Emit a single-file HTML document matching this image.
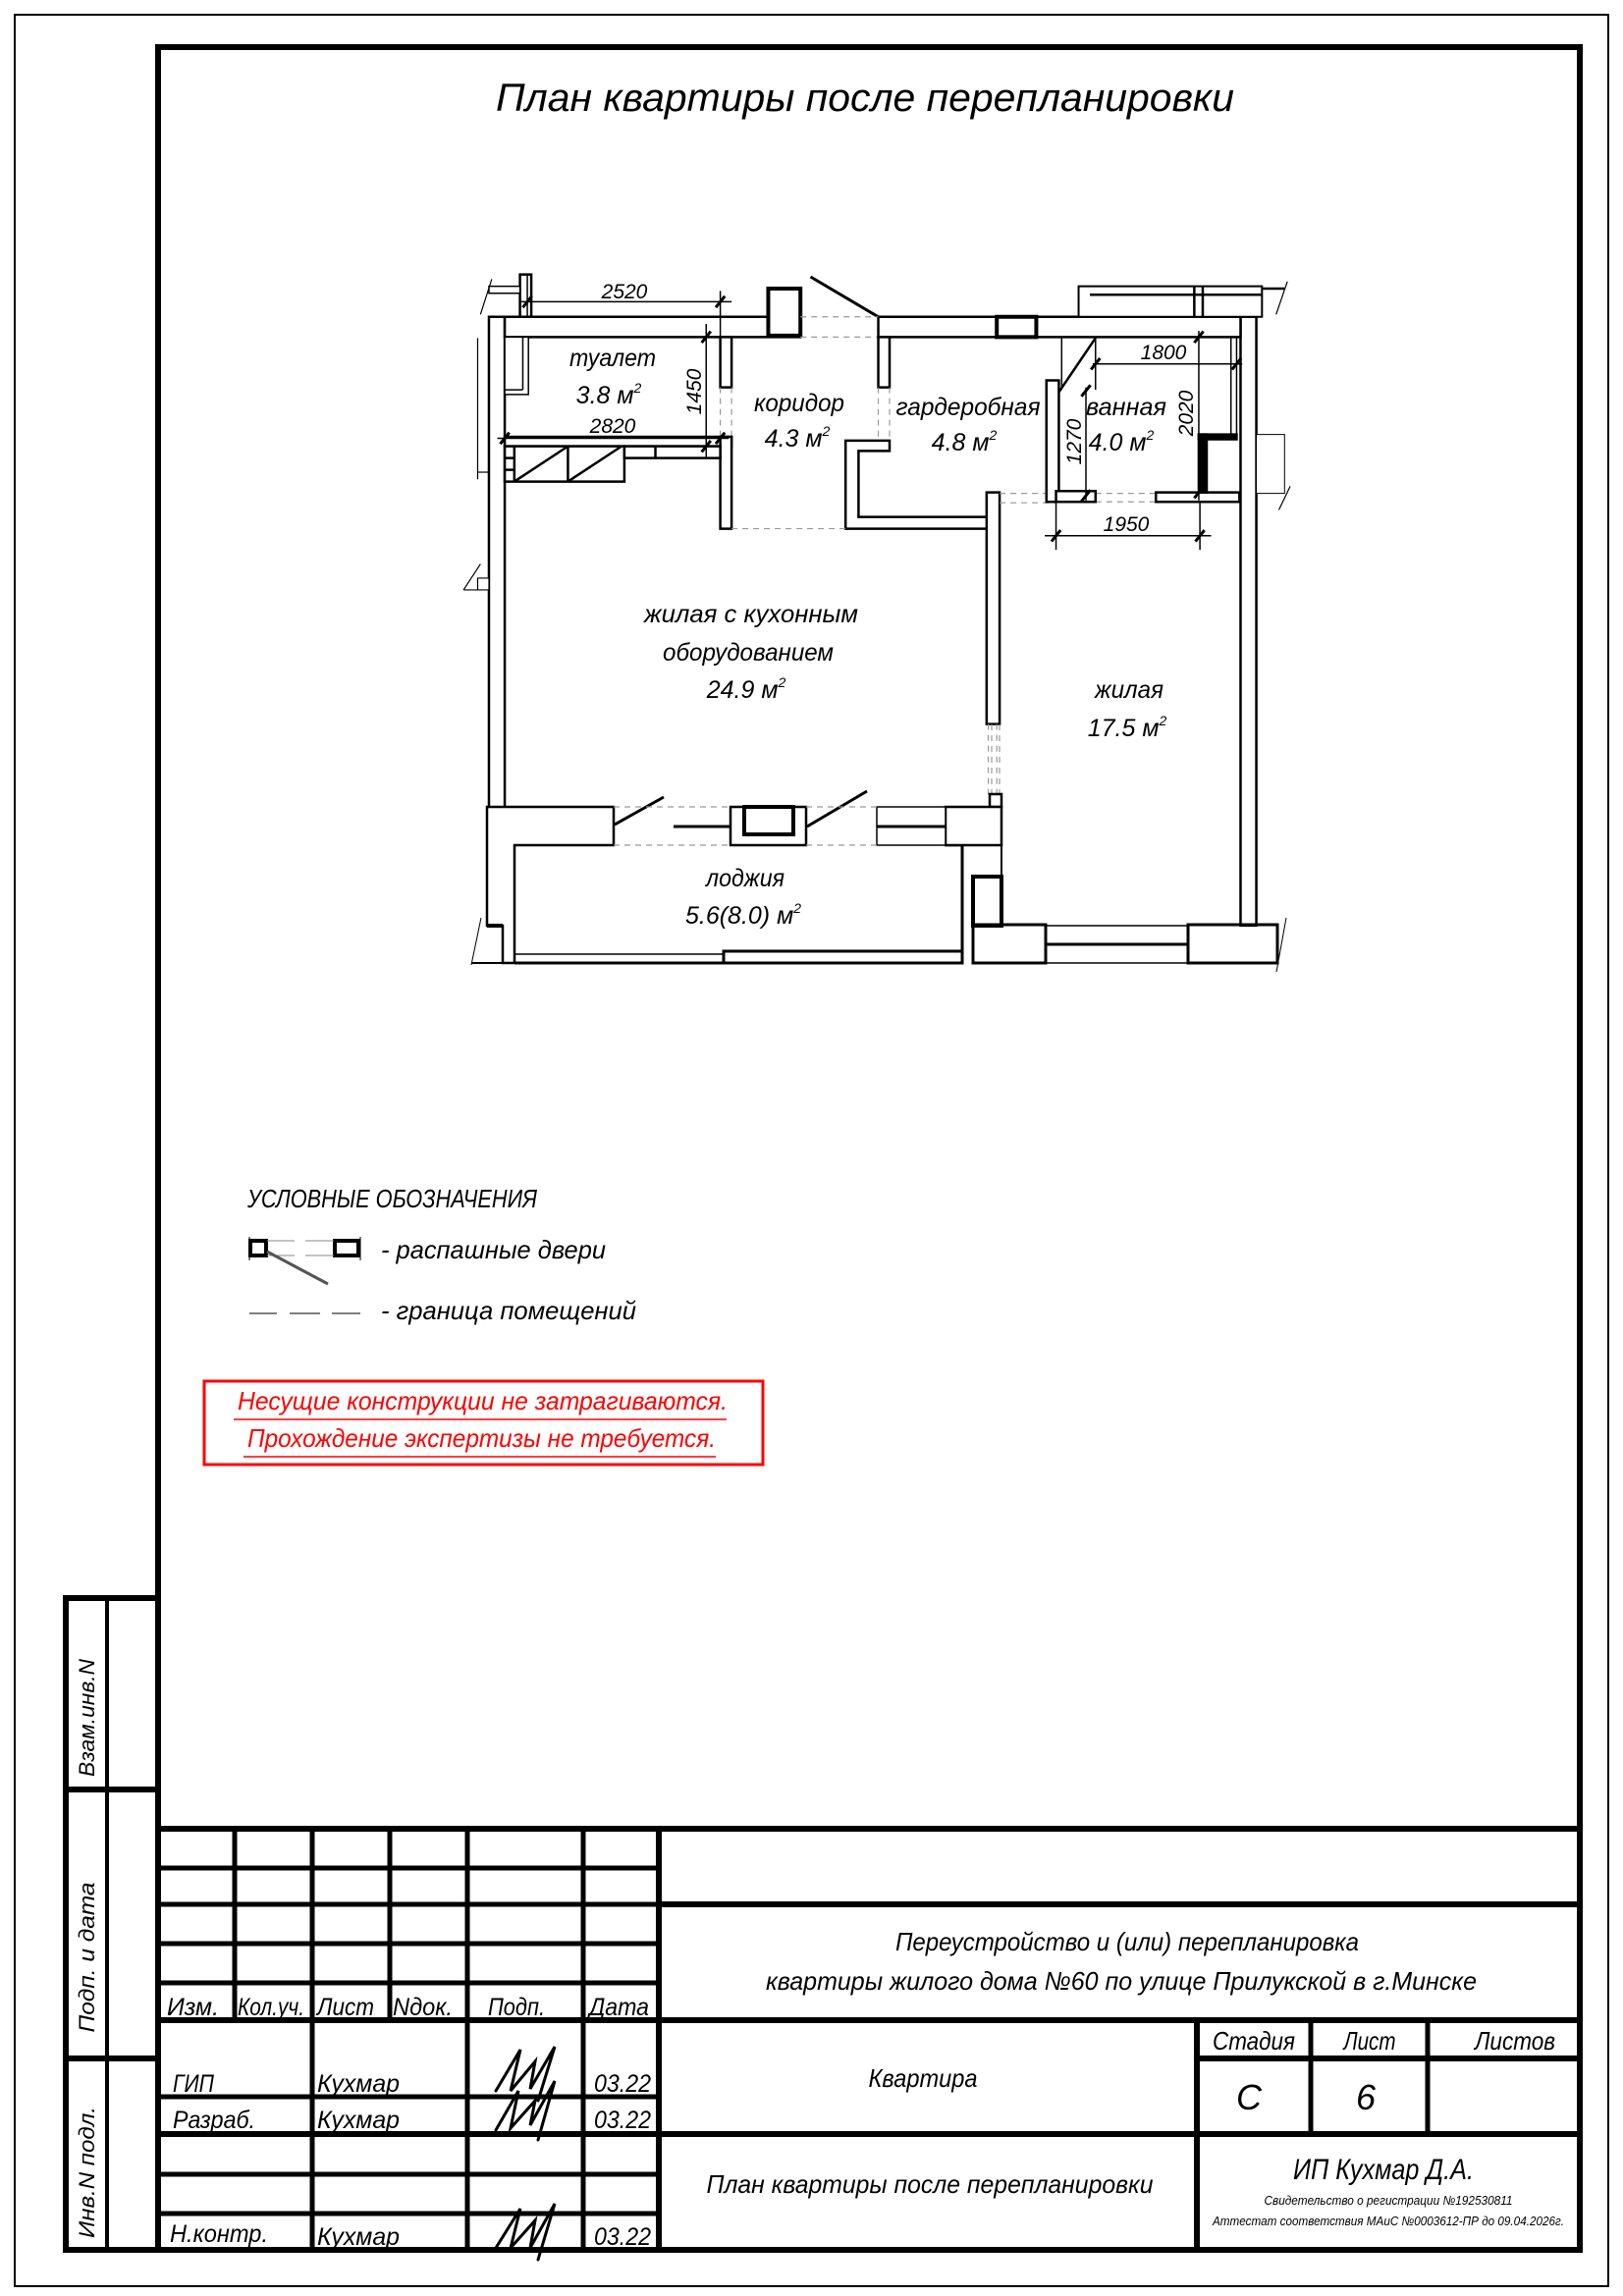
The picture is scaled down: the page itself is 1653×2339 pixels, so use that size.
<!DOCTYPE html>
<html><head><meta charset="utf-8"><style>
html,body{margin:0;padding:0;background:#fff;}
svg{display:block;}
text{font-family:"Liberation Sans","DejaVu Sans",sans-serif;font-style:italic;fill:#000;}
.fp rect,.fp polygon{fill:#fff;stroke:#000;}
.fp *{vector-effect:non-scaling-stroke;}
.d{stroke:#999;stroke-dasharray:6 5;fill:none;stroke-width:1.2;}
</style></head><body>
<svg width="1653" height="2339" viewBox="0 0 1653 2339" xmlns="http://www.w3.org/2000/svg">
<rect x="15" y="15" width="1623" height="2314" fill="none" stroke="#000" stroke-width="2"/>
<rect x="161" y="48" width="1448" height="2244" fill="none" stroke="#000" stroke-width="6"/>

<text x="881" y="113" font-size="40" text-anchor="middle" textLength="752" lengthAdjust="spacingAndGlyphs">План квартиры после перепланировки</text>

<!-- floor plan upper part in zoom coords -->
<g class="fp" transform="translate(452,258) scale(0.5747,0.4796)" stroke="#000" stroke-width="2.5" fill="none">
<rect x="80" y="135" width="28" height="1293"/>
<rect x="1412" y="135" width="28" height="1293"/>
<rect x="108" y="135" width="524" height="43"/>
<rect x="770" y="135" width="642" height="43"/>
<rect x="575" y="75" width="57" height="100" stroke-width="4"/>
<rect x="980" y="135" width="70" height="43" stroke-width="4"/>
<rect x="135" y="45" width="20" height="90"/>
<rect x="80" y="70" width="55" height="15" stroke-width="1.5"/>
<rect x="1125" y="70" width="325" height="65" stroke-width="2"/>
<line x1="1145" y1="88" x2="1450" y2="88"/>
<line x1="1330" y1="70" x2="1330" y2="135"/><line x1="1345" y1="70" x2="1345" y2="135"/>
<line x1="1450" y1="75" x2="1490" y2="75"/>
<line x1="1475" y1="130" x2="1495" y2="60" stroke-width="1.2"/>
<line x1="65" y1="130" x2="85" y2="55" stroke-width="1.2"/>
<line x1="60" y1="180" x2="60" y2="480" stroke-width="1.2"/>
<line x1="60" y1="465" x2="80" y2="465" stroke-width="1.2"/>
<!-- toilet -->
<rect x="108" y="178" width="42" height="122" stroke-width="1.5"/>
<line x1="140" y1="178" x2="140" y2="290" stroke-width="1.5"/><line x1="108" y1="290" x2="140" y2="290" stroke-width="1.5"/>
<rect x="490" y="178" width="20" height="107"/>
<line class="d" x1="490" y1="285" x2="490" y2="390"/><line class="d" x1="510" y1="285" x2="510" y2="390"/>
<rect x="108" y="390" width="402" height="20"/>
<rect x="490" y="390" width="20" height="195"/>
<rect x="108" y="410" width="212" height="75"/>
<line x1="125" y1="410" x2="125" y2="485"/><line x1="220" y1="410" x2="220" y2="485"/>
<line x1="125" y1="485" x2="220" y2="410"/><line x1="220" y1="485" x2="315" y2="410"/>
<line x1="108" y1="435" x2="125" y2="435"/><line x1="108" y1="460" x2="125" y2="460"/>
<rect x="320" y="410" width="170" height="25"/><line x1="375" y1="410" x2="375" y2="435"/>
<!-- dims -->
<line x1="135" y1="103" x2="510" y2="103" stroke-width="1.5"/>
<line x1="148" y1="45" x2="148" y2="135" stroke-width="1.5"/>
<line x1="490" y1="80" x2="490" y2="178" stroke-width="1.5"/>
<line x1="140" y1="115" x2="156" y2="91" stroke-width="3"/><line x1="482" y1="115" x2="498" y2="91" stroke-width="3"/>
<line x1="95" y1="393" x2="505" y2="393" stroke-width="1.5"/>
<line x1="100" y1="405" x2="116" y2="381" stroke-width="3"/><line x1="482" y1="405" x2="498" y2="381" stroke-width="3"/>
<line x1="465" y1="150" x2="465" y2="435" stroke-width="1.5"/>
<line x1="457" y1="190" x2="473" y2="166" stroke-width="3"/><line x1="457" y1="422" x2="473" y2="398" stroke-width="3"/>
<!-- corridor -->
<line x1="650" y1="50" x2="770" y2="135" stroke-width="3"/>
<line class="d" x1="632" y1="135" x2="770" y2="135"/><line class="d" x1="632" y1="178" x2="770" y2="178"/>
<rect x="770" y="178" width="20" height="107"/>
<line class="d" x1="770" y1="285" x2="770" y2="398"/><line class="d" x1="790" y1="285" x2="790" y2="398"/>
<polygon points="712,398 790,398 790,420 735,420 735,560 965,560 965,585 712,585"/>
<line class="d" x1="510" y1="585" x2="712" y2="585"/>
<!-- interior wall -->
<rect x="962" y="508" width="23" height="492"/>
<line class="d" x1="965" y1="1000" x2="965" y2="1150"/><line class="d" x1="980" y1="1000" x2="980" y2="1150"/>
<line class="d" x1="985" y1="510" x2="1085" y2="510"/><line class="d" x1="985" y1="530" x2="1085" y2="530"/>
<line class="d" x1="1155" y1="510" x2="1262" y2="510"/><line class="d" x1="1155" y1="528" x2="1262" y2="528"/>
<!-- bath -->
<rect x="1068" y="270" width="22" height="258"/>
<rect x="1085" y="505" width="70" height="23"/>
<rect x="1262" y="508" width="148" height="20"/>
<rect x="1338" y="385" width="14" height="123" style="fill:#000"/>
<rect x="1338" y="385" width="67" height="10" style="fill:#000"/>
<line x1="1095" y1="178" x2="1095" y2="290" stroke-width="1.5"/>
<line x1="1090" y1="295" x2="1155" y2="180" stroke-width="2.5"/>
<line x1="1395" y1="178" x2="1395" y2="385" stroke-width="1.5"/><line x1="1405" y1="178" x2="1405" y2="385" stroke-width="1.5"/>
<line x1="1150" y1="235" x2="1415" y2="235" stroke-width="1.5"/>
<line x1="1155" y1="180" x2="1155" y2="290" stroke-width="1.5"/>
<line x1="1147" y1="247" x2="1163" y2="223" stroke-width="3"/><line x1="1397" y1="247" x2="1413" y2="223" stroke-width="3"/>
<line x1="1338" y1="165" x2="1338" y2="525" stroke-width="1.5"/>
<line x1="1330" y1="190" x2="1346" y2="166" stroke-width="3"/><line x1="1330" y1="520" x2="1346" y2="496" stroke-width="3"/>
<line x1="1138" y1="285" x2="1138" y2="525" stroke-width="1.5"/>
<line x1="1130" y1="304" x2="1146" y2="280" stroke-width="3"/><line x1="1130" y1="527" x2="1146" y2="503" stroke-width="3"/>
<line x1="1065" y1="600" x2="1360" y2="600" stroke-width="1.5"/>
<line x1="1085" y1="528" x2="1085" y2="630" stroke-width="1.5"/><line x1="1340" y1="528" x2="1340" y2="630" stroke-width="1.5"/>
<line x1="1077" y1="612" x2="1093" y2="588" stroke-width="3"/><line x1="1332" y1="612" x2="1348" y2="588" stroke-width="3"/>
<rect x="1440" y="385" width="50" height="125" stroke="#999" stroke-width="1"/>
<line x1="1480" y1="545" x2="1500" y2="495" stroke-width="1.2"/>
<!-- left outside -->
<line x1="35" y1="715" x2="65" y2="660" stroke-width="1.2"/>
<line x1="35" y1="715" x2="80" y2="715" stroke-width="1.2"/>
<rect x="60" y="690" width="20" height="25" stroke-width="1.2"/>
</g>

<!-- loggia / lower part in full coords -->
<g stroke="#000" stroke-width="2.5" fill="none">
<line class="d" x1="1010" y1="738" x2="1010" y2="809"/><line class="d" x1="1018" y1="738" x2="1018" y2="809"/>
<rect x="1008" y="809" width="12" height="13" fill="#fff"/>
<polygon points="496,822 625,822 625,861 524,861 524,981 512,981 512,943 496,943" fill="#fff"/>
<line x1="496" y1="943" x2="512" y2="943" stroke-width="4"/>
<line x1="524" y1="972" x2="737" y2="972" stroke-width="1.5"/>
<line x1="524" y1="981" x2="980" y2="981" stroke-width="3"/>
<rect x="737" y="969" width="243" height="12" stroke-width="3"/>
<line x1="980" y1="861" x2="980" y2="981" stroke-width="3"/>
<line x1="963" y1="861" x2="980" y2="861"/>
<rect x="963" y="822" width="57" height="39" fill="#fff"/>
<rect x="893" y="822" width="70" height="39" fill="#fff" stroke-width="1.5"/>
<line x1="893" y1="842" x2="963" y2="842" stroke-width="3"/>
<rect x="744" y="822" width="77" height="39" fill="#fff"/>
<rect x="758" y="822" width="50" height="28" stroke-width="4"/>
<line x1="686" y1="842" x2="744" y2="842" stroke-width="3"/>
<line x1="626" y1="840" x2="676" y2="812" stroke-width="3"/>
<line x1="822" y1="842" x2="883" y2="806" stroke-width="3"/>
<line class="d" x1="625" y1="822" x2="744" y2="822"/><line class="d" x1="625" y1="861" x2="744" y2="861"/>
<line class="d" x1="821" y1="822" x2="893" y2="822"/><line class="d" x1="821" y1="861" x2="893" y2="861"/>
<line x1="1020" y1="822" x2="1020" y2="893" stroke-width="2"/>
<rect x="991" y="893" width="29" height="50" stroke-width="4"/>
<rect x="991" y="942" width="74" height="39" stroke-width="3"/>
<line x1="1065" y1="943" x2="1210" y2="943" stroke-width="1.5"/>
<line x1="1065" y1="962" x2="1210" y2="962" stroke-width="3"/>
<line x1="1065" y1="981" x2="1210" y2="981" stroke-width="1.5"/>
<rect x="1210" y="942" width="91" height="39" stroke-width="3"/>
<line x1="480" y1="981" x2="512" y2="981" stroke-width="2"/>
<line x1="480" y1="983" x2="490" y2="935" stroke-width="1"/>
<line x1="1300" y1="990" x2="1310" y2="935" stroke-width="1"/>
</g>

<!-- plan labels -->
<g font-size="25" text-anchor="middle">
<text x="624" y="373" textLength="88" lengthAdjust="spacingAndGlyphs">туалет</text>
<text x="620" y="411">3.8 м<tspan font-size="14" dy="-11">2</tspan></text>
<text x="814" y="419" textLength="92" lengthAdjust="spacingAndGlyphs">коридор</text>
<text x="812" y="455">4.3 м<tspan font-size="14" dy="-11">2</tspan></text>
<text x="986" y="423" textLength="147" lengthAdjust="spacingAndGlyphs">гардеробная</text>
<text x="982" y="459">4.8 м<tspan font-size="14" dy="-11">2</tspan></text>
<text x="1147" y="423" textLength="82" lengthAdjust="spacingAndGlyphs">ванная</text>
<text x="1142" y="459">4.0 м<tspan font-size="14" dy="-11">2</tspan></text>
<text x="765" y="634" textLength="218" lengthAdjust="spacingAndGlyphs">жилая с кухонным</text>
<text x="762" y="673" textLength="174" lengthAdjust="spacingAndGlyphs">оборудованием</text>
<text x="760" y="711">24.9 м<tspan font-size="14" dy="-11">2</tspan></text>
<text x="1150" y="711" textLength="70" lengthAdjust="spacingAndGlyphs">жилая</text>
<text x="1148" y="750">17.5 м<tspan font-size="14" dy="-11">2</tspan></text>
<text x="759" y="903" textLength="80" lengthAdjust="spacingAndGlyphs">лоджия</text>
<text x="757" y="941">5.6(8.0) м<tspan font-size="14" dy="-11">2</tspan></text>
</g>
<g font-size="21" text-anchor="middle">
<text x="636" y="304">2520</text>
<text x="624" y="441">2820</text>
<text x="1185" y="366">1800</text>
<text x="1147" y="541">1950</text>
<text transform="translate(714,399) rotate(-90)">1450</text>
<text transform="translate(1215,421) rotate(-90)">2020</text>
<text transform="translate(1101,450) rotate(-90)">1270</text>
</g>

<!-- legend -->
<text x="252" y="1230" font-size="26" textLength="295" lengthAdjust="spacingAndGlyphs">УСЛОВНЫЕ ОБОЗНАЧЕНИЯ</text>
<rect x="255" y="1264" width="16" height="15" fill="#fff" stroke="#000" stroke-width="4"/>
<rect x="341" y="1264" width="24" height="15" fill="#fff" stroke="#000" stroke-width="4"/>
<line x1="254" y1="1260" x2="254" y2="1284" stroke="#000" stroke-width="1"/>
<line x1="367" y1="1260" x2="367" y2="1284" stroke="#000" stroke-width="1"/>
<line x1="272" y1="1264" x2="300" y2="1264" stroke="#888" stroke-width="1"/><line x1="311" y1="1264" x2="340" y2="1264" stroke="#888" stroke-width="1"/>
<line x1="272" y1="1279" x2="300" y2="1279" stroke="#888" stroke-width="1"/><line x1="311" y1="1279" x2="340" y2="1279" stroke="#888" stroke-width="1"/>
<line x1="272" y1="1275" x2="334" y2="1308" stroke="#555" stroke-width="3"/>
<text x="388" y="1282" font-size="26" textLength="229" lengthAdjust="spacingAndGlyphs">- распашные двери</text>
<line x1="254" y1="1338" x2="282" y2="1338" stroke="#000" stroke-width="1"/>
<line x1="295" y1="1338" x2="326" y2="1338" stroke="#000" stroke-width="1"/>
<line x1="338" y1="1338" x2="367" y2="1338" stroke="#000" stroke-width="1"/>
<text x="388" y="1344" font-size="26" textLength="260" lengthAdjust="spacingAndGlyphs">- граница помещений</text>
<rect x="208" y="1407" width="569" height="85" fill="none" stroke="#f00" stroke-width="3"/>
<text x="242" y="1436" font-size="26" style="fill:#f00" textLength="499" lengthAdjust="spacingAndGlyphs">Несущие конструкции не затрагиваются.</text>
<line x1="238" y1="1446" x2="740" y2="1446" stroke="#f00" stroke-width="1.5"/>
<text x="252" y="1474" font-size="26" style="fill:#f00" textLength="477" lengthAdjust="spacingAndGlyphs">Прохождение экспертизы не требуется.</text>
<line x1="248" y1="1484" x2="729" y2="1484" stroke="#f00" stroke-width="1.5"/>

<!-- left strip -->
<g stroke="#000" stroke-width="6" fill="none">
<polyline points="161,1628 67,1628 67,2292 161,2292"/>
<line x1="109" y1="1628" x2="109" y2="2292" stroke-width="4"/>
<line x1="67" y1="1823" x2="161" y2="1823"/>
<line x1="67" y1="2097" x2="161" y2="2097"/>
</g>
<g font-size="22">
<text transform="translate(96,1750) rotate(-90)" text-anchor="middle" textLength="120" lengthAdjust="spacingAndGlyphs">Взам.инв.N</text>
<text transform="translate(96,1994) rotate(-90)" text-anchor="middle" textLength="153" lengthAdjust="spacingAndGlyphs">Подп. и дата</text>
<text transform="translate(96,2213) rotate(-90)" text-anchor="middle" textLength="134" lengthAdjust="spacingAndGlyphs">Инв.N подл.</text>
</g>

<!-- title block -->
<g stroke="#000" stroke-width="5" fill="none">
<line x1="161" y1="1863" x2="1609" y2="1863" stroke-width="6"/>
<line x1="161" y1="1903" x2="671" y2="1903"/>
<line x1="161" y1="1940" x2="671" y2="1940"/>
<line x1="671" y1="1940" x2="1609" y2="1940" stroke-width="6"/>
<line x1="161" y1="1980" x2="671" y2="1980"/>
<line x1="161" y1="2020" x2="671" y2="2020"/>
<line x1="161" y1="2058" x2="1609" y2="2058" stroke-width="6"/>
<line x1="161" y1="2136" x2="671" y2="2136"/>
<line x1="161" y1="2174" x2="1609" y2="2174" stroke-width="6"/>
<line x1="161" y1="2215" x2="671" y2="2215"/>
<line x1="161" y1="2255" x2="671" y2="2255"/>
<line x1="1219" y1="2097" x2="1609" y2="2097" stroke-width="6"/>
<line x1="239" y1="1863" x2="239" y2="2058"/>
<line x1="318" y1="1863" x2="318" y2="2292"/>
<line x1="397" y1="1863" x2="397" y2="2058"/>
<line x1="476" y1="1863" x2="476" y2="2292"/>
<line x1="594" y1="1863" x2="594" y2="2292"/>
<line x1="671" y1="1863" x2="671" y2="2292" stroke-width="6"/>
<line x1="1219" y1="2058" x2="1219" y2="2292" stroke-width="6"/>
<line x1="1335" y1="2058" x2="1335" y2="2174"/>
<line x1="1454" y1="2058" x2="1454" y2="2174"/>
</g>
<g font-size="25">
<text x="170" y="2053" textLength="53" lengthAdjust="spacingAndGlyphs">Изм.</text>
<text x="242" y="2053" textLength="68" lengthAdjust="spacingAndGlyphs">Кол.уч.</text>
<text x="323" y="2053" textLength="58" lengthAdjust="spacingAndGlyphs">Лист</text>
<text x="400" y="2053" textLength="61" lengthAdjust="spacingAndGlyphs">Nдок.</text>
<text x="497" y="2053" textLength="58" lengthAdjust="spacingAndGlyphs">Подп.</text>
<text x="600" y="2053" textLength="61" lengthAdjust="spacingAndGlyphs">Дата</text>
<text x="176" y="2131" textLength="42" lengthAdjust="spacingAndGlyphs">ГИП</text>
<text x="323" y="2131" textLength="84" lengthAdjust="spacingAndGlyphs">Кухмар</text>
<text x="605" y="2131" textLength="58" lengthAdjust="spacingAndGlyphs">03.22</text>
<text x="176" y="2168" textLength="84" lengthAdjust="spacingAndGlyphs">Разраб.</text>
<text x="323" y="2168" textLength="84" lengthAdjust="spacingAndGlyphs">Кухмар</text>
<text x="605" y="2168" textLength="58" lengthAdjust="spacingAndGlyphs">03.22</text>
<text x="173" y="2284" textLength="100" lengthAdjust="spacingAndGlyphs">Н.контр.</text>
<text x="323" y="2287" textLength="84" lengthAdjust="spacingAndGlyphs">Кухмар</text>
<text x="605" y="2287" textLength="58" lengthAdjust="spacingAndGlyphs">03.22</text>
</g>
<g font-size="26" text-anchor="middle">
<text x="1148" y="1987" textLength="472" lengthAdjust="spacingAndGlyphs">Переустройство и (или) перепланировка</text>
<text x="1142" y="2027" textLength="724" lengthAdjust="spacingAndGlyphs">квартиры жилого дома №60 по улице Прилукской в г.Минске</text>
<text x="940" y="2126" textLength="111" lengthAdjust="spacingAndGlyphs">Квартира</text>
<text x="1277" y="2088" textLength="84" lengthAdjust="spacingAndGlyphs">Стадия</text>
<text x="1395" y="2088" textLength="53" lengthAdjust="spacingAndGlyphs">Лист</text>
<text x="1543" y="2088" textLength="82" lengthAdjust="spacingAndGlyphs">Листов</text>
<text x="1272" y="2149" font-size="36">С</text>
<text x="1391" y="2149" font-size="36">6</text>
<text x="947" y="2234" textLength="455" lengthAdjust="spacingAndGlyphs">План квартиры после перепланировки</text>
<text x="1409" y="2220" font-size="30" textLength="184" lengthAdjust="spacingAndGlyphs">ИП Кухмар Д.А.</text>
<text x="1414" y="2246" font-size="13" textLength="253" lengthAdjust="spacingAndGlyphs">Свидетельство о регистрации №192530811</text>
<text x="1414" y="2267" font-size="13" textLength="358" lengthAdjust="spacingAndGlyphs">Аттестат соответствия МАиС №0003612-ПР до 09.04.2026г.</text>
</g>
<!-- signatures -->
<g stroke="#000" stroke-width="3" fill="none" stroke-linecap="round">
<path d="M505,2130 L530,2088 L520,2130 L545,2100 L540,2128 L565,2085 L548,2140"/>
<path d="M505,2170 L528,2130 L520,2168 L545,2140 L540,2165 L565,2120 L548,2180"/>
<path d="M505,2290 L530,2250 L520,2290 L545,2262 L540,2290 L565,2245 L548,2302"/>
</g>
</svg>
</body></html>
